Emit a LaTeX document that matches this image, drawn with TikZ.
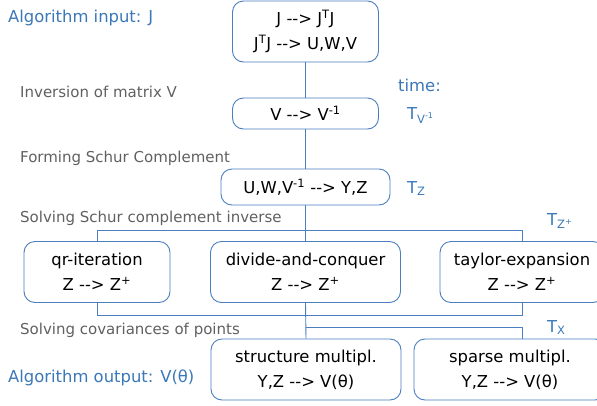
\documentclass[tikz,border=0pt]{standalone}
\usepackage{fontspec}
\setmainfont{DejaVu Sans}
\newcommand\arrw{-\kern0pt-\kern0pt>}
\definecolor{bblue}{HTML}{3B78B8}
\definecolor{lblue}{HTML}{4A7EBF}
\definecolor{gtext}{HTML}{606060}
\begin{document}
\begin{tikzpicture}[x=1pt,y=-1pt,
  box/.style={draw=lblue,line width=0.9pt,rounded corners=11pt,inner sep=0pt,align=center,
    font=\fontsize{16.4}{25}\selectfont,text=black},
  conn/.style={draw=lblue,line width=0.9pt},
  bluelab/.style={anchor=west,inner sep=0pt,text=bblue,font=\fontsize{16.4}{20}\selectfont},
  graylab/.style={anchor=west,inner sep=0pt,text=gtext,font=\fontsize{15}{18}\selectfont},
  timelab/.style={anchor=west,inner sep=0pt,text=bblue,font=\fontsize{16.4}{20}\selectfont}]
\clip (0,0) rectangle (597,405);
% boxes
\node[box,minimum width=146pt,minimum height=61pt] (b1) at (305.5,31.5) {J \arrw{} J\textsuperscript{T}J\\J\textsuperscript{T}J \arrw{} U,W,V};
\node[box,minimum width=146pt,minimum height=31pt] (b2) at (305.5,113.5) {V \arrw{} V\textsuperscript{-1}};
\node[box,minimum width=169pt,minimum height=36pt] (b3) at (305.5,187) {U,W,V\textsuperscript{-1} \arrw{} Y,Z};
\node[box,minimum width=146pt,minimum height=61pt] (qr) at (97,272) {qr-iteration\\Z \arrw{} Z\textsuperscript{+}};
\node[box,minimum width=190pt,minimum height=61pt] (dc) at (305.5,272) {divide-and-conquer\\Z \arrw{} Z\textsuperscript{+}};
\node[box,minimum width=164pt,minimum height=61pt] (te) at (522,272) {taylor-expansion\\Z \arrw{} Z\textsuperscript{+}};
\node[box,minimum width=190pt,minimum height=61pt] (sm) at (306,369.5) {structure multipl.\\Y,Z \arrw{} V(θ)};
\node[box,minimum width=192pt,minimum height=61pt] (sp) at (510,369.5) {sparse multipl.\\Y,Z \arrw{} V(θ)};
% coordinates
\coordinate (t1) at (97,230);
\coordinate (t2) at (522,230);
\coordinate (m1) at (97,315);
\coordinate (m2) at (522,315);
\coordinate (n1) at (305.5,327);
\coordinate (n2) at (522,327);
\coordinate (n3) at (522,339);
% connectors
\draw[conn] (b1.south) -- (b2.north);
\draw[conn] (b2.south) -- (b3.north);
\draw[conn] (b3.south) -- (dc.north);
\draw[conn] (qr.north) -- (t1) -- (t2) -- (te.north);
\draw[conn] (qr.south) -- (m1) -- (m2) -- (te.south);
\draw[conn] (dc.south) -- (sm.north);
\draw[conn] (n1) -- (n2) -- (n3);
% labels
\node[bluelab] (lin) at (8,18) {Algorithm input: J};
\node[bluelab] (lout) at (8,378) {Algorithm output: V(θ)};
\node[graylab] (g1) at (20,92) {Inversion of matrix V};
\node[graylab] (g2) at (20,158) {Forming Schur Complement};
\node[graylab] (g3) at (20,218) {Solving Schur complement inverse};
\node[graylab] (g4) at (20,330) {Solving covariances of points};
\node[timelab] (tm) at (398,85) {time:};
\node[timelab,anchor=base west] (tv) at (407,119) {T\textsubscript{V\textsuperscript{-1}}};
\node[timelab,anchor=base west] (tz) at (407,193) {T\textsubscript{Z}};
\node[timelab,anchor=base west] (tzp) at (547,225) {T\textsubscript{Z\textsuperscript{+}}};
\node[timelab,anchor=base west] (tx) at (547,332) {T\textsubscript{X}};
\end{tikzpicture}
\end{document}
